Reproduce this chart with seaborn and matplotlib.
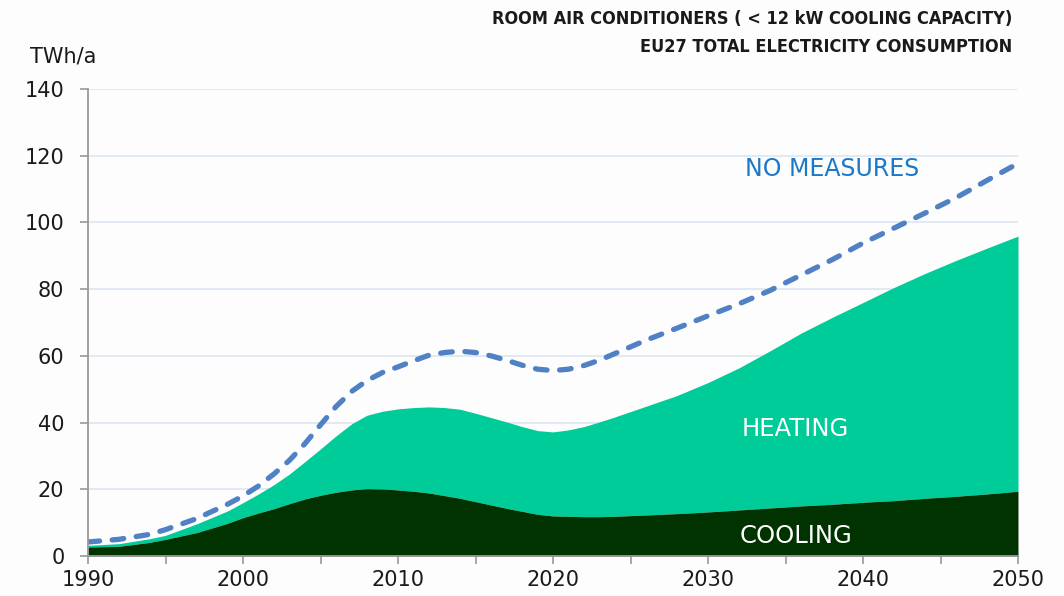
import numpy as np
import pandas as pd
import matplotlib
matplotlib.use("Agg")
import matplotlib.pyplot as plt
import seaborn as sns

# ---- data ----
years_nm = [1990, 1992, 1994, 1995, 1997, 1999, 2000, 2001, 2002, 2003, 2004, 2005, 2006,
            2007, 2008, 2009, 2010, 2011, 2012, 2013, 2014, 2015, 2016, 2017, 2018, 2019,
            2020, 2021, 2022, 2023, 2024, 2026, 2028, 2030, 2032, 2034, 2036, 2038, 2040,
            2042, 2044, 2046, 2048, 2050]
no_measures = [4.2, 5.0, 6.5, 7.9, 11.2, 15.5, 18.0, 21.0, 24.6, 28.7, 33.7, 39.3, 44.8,
               49.3, 52.6, 55.0, 56.7, 58.5, 60.2, 61.0, 61.4, 61.0, 60.0, 58.7, 57.2, 56.0,
               55.6, 56.0, 57.1, 58.7, 60.7, 64.7, 68.3, 72.0, 75.6, 79.6, 84.2, 88.8, 93.8,
               98.3, 102.8, 107.4, 112.6, 117.7]

years_area = [1990, 1992, 1994, 1995, 1997, 1999, 2000, 2001, 2002, 2003, 2004, 2005, 2006,
              2007, 2008, 2009, 2010, 2011, 2012, 2013, 2014, 2015, 2016, 2017, 2018, 2019,
              2020, 2021, 2022, 2023, 2024, 2026, 2028, 2030, 2032, 2034, 2036, 2038, 2040,
              2042, 2044, 2046, 2048, 2050]
total_heat_cool = [3.2, 3.7, 5.2, 6.2, 9.6, 13.5, 16.0, 18.6, 21.4, 24.6, 28.3, 32.1, 36.0,
                   39.6, 42.2, 43.4, 44.1, 44.5, 44.7, 44.5, 44.0, 42.8, 41.5, 40.2, 38.8, 37.6,
                   37.2, 37.8, 38.8, 40.2, 41.7, 44.9, 48.1, 52.0, 56.4, 61.5, 66.8, 71.5, 76.0,
                   80.5, 84.7, 88.6, 92.3, 95.9]
cooling = [2.7, 2.9, 4.1, 5.0, 7.0, 9.8, 11.5, 12.9, 14.2, 15.7, 17.1, 18.2, 19.1,
           19.8, 20.2, 20.1, 19.8, 19.4, 18.9, 18.1, 17.3, 16.3, 15.3, 14.3, 13.4, 12.5,
           12.0, 11.9, 11.8, 11.8, 11.9, 12.3, 12.7, 13.2, 13.8, 14.4, 15.0, 15.5, 16.1,
           16.6, 17.3, 17.9, 18.6, 19.4]

title_lines = ["ROOM AIR CONDITIONERS ( < 12 kW COOLING CAPACITY)",
               "EU27 TOTAL ELECTRICITY CONSUMPTION"]
y_unit = "TWh/a"
x_ticks = [1990, 2000, 2010, 2020, 2030, 2040, 2050]
y_ticks = [0, 20, 40, 60, 80, 100, 120, 140]

# ---- colours ----
C_HEAT = "#00CC99"
C_COOL = "#003300"
C_LINE = "#4F81C4"
C_LABEL = "#1C78C8"
C_GRID = "#DCE6F2"
C_AXIS = "#999999"
BG = "#FDFDFD"

sns.set_theme(style="white")
plt.rcParams['font.family'] = ['DejaVu Sans']

fig = plt.figure(figsize=(10.64, 5.96), dpi=100, facecolor=BG)
ax = fig.add_axes([88/1064, 40/596, 930/1064, 467/596])
ax.set_facecolor(BG)

area = pd.DataFrame({"year": years_area, "total": total_heat_cool, "cooling": cooling})
nm = pd.DataFrame({"year": years_nm, "value": no_measures})

ax.fill_between(area["year"], area["cooling"], area["total"], color=C_HEAT, lw=0, zorder=2)
ax.fill_between(area["year"], 0, area["cooling"], color=C_COOL, lw=0, zorder=3)
sns.lineplot(data=nm, x="year", y="value", ax=ax, color=C_LINE, lw=3.8,
             linestyle=(0, (2.2, 2.4)), dash_capstyle="round", zorder=4, legend=False)

ax.set_xlim(1990, 2050)
ax.set_ylim(0, 140)
ax.set_xticks(x_ticks)
ax.set_xticks(range(1990, 2051, 5), minor=True)
ax.set_yticks(y_ticks)
ax.grid(axis="y", color=C_GRID, lw=1.2, zorder=0)
ax.set_axisbelow(True)
ax.set_xlabel("")
ax.set_ylabel("")
for s in ["top", "right"]:
    ax.spines[s].set_visible(False)
for s in ["left", "bottom"]:
    ax.spines[s].set_color(C_AXIS)
    ax.spines[s].set_linewidth(1.3)
    ax.spines[s].set_zorder(5)
ax.tick_params(axis="x", which="both", direction="out", length=6, width=1.2, color=C_AXIS,
               labelsize=15, labelcolor="#1a1a1a", pad=4, bottom=True)
ax.tick_params(axis="y", which="both", direction="out", length=6, width=1.2, color=C_AXIS,
               labelsize=15, labelcolor="#1a1a1a", pad=11, left=True)

fig.text(30/1064, 1 - 56/596, y_unit, fontsize=15, color="#1a1a1a", va="center", ha="left")
fig.text(1012/1064, 1 - 19/596, title_lines[0], fontsize=13, fontweight="bold",
         fontstretch="condensed", ha="right", va="center", color="#1a1a1a")
fig.text(1012/1064, 1 - 47/596, title_lines[1], fontsize=13, fontweight="bold",
         fontstretch="condensed", ha="right", va="center", color="#1a1a1a")

ax.text(2038.0, 116.1, "NO MEASURES", fontsize=17, color=C_LABEL, ha="center", va="center")
ax.text(2035.6, 38.0, "HEATING", fontsize=17.5, color="white", ha="center", va="center", zorder=6)
ax.text(2035.7, 6.0, "COOLING", fontsize=17.5, color="white", ha="center", va="center", zorder=6)

fig.savefig("out.png", dpi=100, facecolor=BG)
